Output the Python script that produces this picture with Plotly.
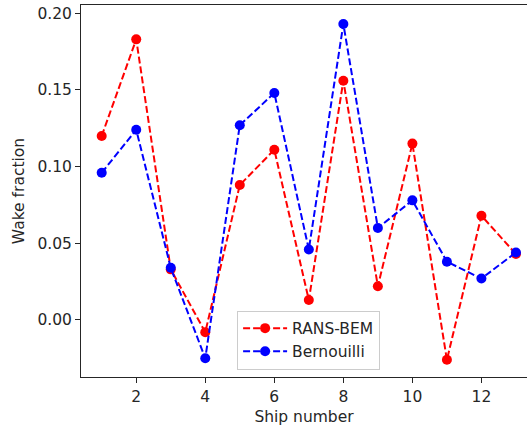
import plotly.graph_objects as go

ships = [1, 2, 3, 4, 5, 6, 7, 8, 9, 10, 11, 12, 13]
rans_bem = [0.120, 0.183, 0.033, -0.008, 0.088, 0.111, 0.013, 0.156, 0.022, 0.115, -0.026, 0.068, 0.043]
bernoulli = [0.096, 0.124, 0.034, -0.025, 0.127, 0.148, 0.046, 0.193, 0.060, 0.078, 0.038, 0.027, 0.044]
x_ticks = [2, 4, 6, 8, 10, 12]
y_ticks = [0.00, 0.05, 0.10, 0.15, 0.20]

fig = go.Figure()
fig.add_trace(go.Scatter(x=ships, y=rans_bem, mode="lines+markers", name="RANS-BEM",
                         line=dict(color="#ff0000", width=2, dash="7px,3px"),
                         marker=dict(color="#ff0000", size=10)))
fig.add_trace(go.Scatter(x=ships, y=bernoulli, mode="lines+markers", name="Bernouilli",
                         line=dict(color="#0000ff", width=2, dash="7px,3px"),
                         marker=dict(color="#0000ff", size=10)))

fs = 15.5
font = dict(family="DejaVu Sans", size=fs, color="#262626")
fig.update_layout(
    width=527, height=429,
    margin=dict(l=81, r=0, t=5, b=52, autoexpand=False),
    paper_bgcolor="white", plot_bgcolor="white",
    font=font,
    showlegend=True,
    legend=dict(x=0.35, y=0.02, xanchor="left", yanchor="bottom",
                bgcolor="rgba(255,255,255,0.8)", bordercolor="#cccccc", borderwidth=1,
                font=font, itemwidth=44, tracegroupgap=2),
)
fig.update_xaxes(range=[0.4, 13.32], tickvals=x_ticks, ticks="outside", ticklen=5, tickwidth=1,
                 tickcolor="#262626", showgrid=False, zeroline=False, showline=True,
                 linecolor="#262626", linewidth=1, mirror=True, automargin=False,
                 tickfont=font,
                 title=dict(text="Ship number", standoff=6, font=font))
fig.update_yaxes(range=[-0.0372, 0.2054], tickvals=y_ticks, tickformat=".2f", ticks="outside",
                 ticklen=5, tickwidth=1, tickcolor="#262626", showgrid=False, zeroline=False,
                 showline=True, linecolor="#262626", linewidth=1, automargin=False,
                 tickfont=font,
                 title=dict(text="Wake fraction", standoff=8, font=font))

fig.write_html("out.html", config={"displayModeBar": False},
               post_script="document.body.style.margin='0';document.body.style.overflow='hidden';")
